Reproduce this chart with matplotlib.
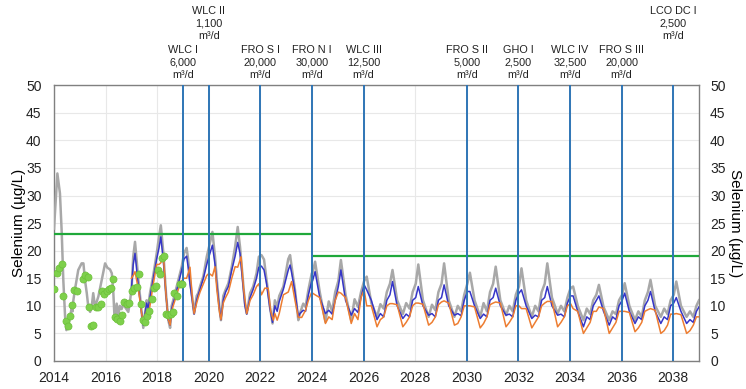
import numpy as np
import matplotlib
matplotlib.use("Agg")
import matplotlib.pyplot as plt

plt.rcParams['font.family'] = ['Liberation Sans', 'DejaVu Sans']

# measured data (green dots)
obs_t = [2014.01, 2014.13, 2014.2, 2014.3, 2014.36, 2014.45, 2014.53, 2014.62, 2014.71, 2014.79,
         2014.88, 2015.11, 2015.2, 2015.31, 2015.37, 2015.43, 2015.52, 2015.63, 2015.72, 2015.81,
         2015.86, 2015.95, 2016.04, 2016.13, 2016.21, 2016.3, 2016.36, 2016.45, 2016.55, 2016.62,
         2016.71, 2016.82, 2016.92, 2017.01, 2017.11, 2017.2, 2017.29, 2017.36, 2017.44, 2017.53,
         2017.62, 2017.69, 2017.79, 2017.86, 2017.95, 2018.02, 2018.11, 2018.19, 2018.28, 2018.34,
         2018.43, 2018.52, 2018.6, 2018.66, 2018.78, 2018.88, 2018.95]
obs_v = [13.0, 16.0, 16.8, 17.5, 11.8, 7.3, 6.3, 8.2, 10.1, 12.9,
         12.7, 14.8, 15.6, 15.2, 9.8, 6.4, 6.6, 9.7, 9.8, 10.3,
         12.6, 12.1, 12.7, 13.0, 13.3, 14.8, 7.9, 7.6, 7.2, 8.3,
         10.7, 10.4, 10.6, 12.7, 13.3, 13.5, 15.8, 10.3, 7.4, 7.1,
         8.2, 9.1, 11.2, 13.2, 13.6, 16.5, 15.7, 18.6, 19.0, 8.5,
         8.3, 8.6, 8.8, 12.4, 11.8, 13.9, 14.0]

# gray series, history part (2014 - 2023)
gray_hist_t = [2014.0, 2014.13, 2014.23, 2014.3, 2014.36, 2014.43, 2014.48, 2014.55, 2014.62, 2014.69,
               2014.72, 2014.75, 2014.81, 2014.94, 2015.07, 2015.14, 2015.2, 2015.27, 2015.33, 2015.4,
               2015.46, 2015.52, 2015.59, 2015.72, 2015.85, 2015.98, 2016.07, 2016.17, 2016.24, 2016.3,
               2016.35, 2016.43, 2016.49, 2016.55, 2016.62, 2016.69, 2016.75, 2016.88, 2016.95, 2017.01,
               2017.07, 2017.14, 2017.27, 2017.4, 2017.46, 2017.59, 2017.65, 2017.72, 2017.85, 2017.98,
               2018.07, 2018.14, 2018.24, 2018.34, 2018.43, 2018.5, 2018.56, 2018.62, 2018.69, 2018.82,
               2018.95, 2019.04, 2019.14, 2019.2, 2019.27, 2019.37, 2019.43, 2019.53, 2019.59, 2019.66,
               2019.79, 2019.92, 2020.01, 2020.14, 2020.24, 2020.31, 2020.41, 2020.47, 2020.56, 2020.65,
               2020.76, 2020.89, 2021.02, 2021.12, 2021.21, 2021.3, 2021.4, 2021.47, 2021.6, 2021.72,
               2021.85, 2021.94, 2022.04, 2022.14, 2022.24, 2022.37, 2022.47, 2022.56, 2022.65, 2022.73,
               2022.89, 2023.08, 2023.15, 2023.21, 2023.34, 2023.47, 2023.53, 2023.66, 2023.75, 2023.86,
               2023.99]
gray_hist_v = [24.0, 34.0, 30.4, 23.2, 14.7, 8.0, 5.6, 6.5, 7.9, 9.8,
               9.0, 11.0, 12.9, 16.5, 17.7, 17.7, 14.7, 12.3, 9.8, 8.9,
               9.8, 12.3, 9.8, 11.7, 14.7, 17.7, 16.9, 16.6, 15.9, 12.3,
               7.4, 10.4, 8.0, 10.0, 9.4, 10.4, 9.8, 8.9, 11.0, 13.4,
               18.9, 21.6, 14.7, 8.7, 6.0, 11.0, 9.9, 12.3, 15.6, 19.5,
               22.5, 24.6, 19.5, 12.3, 7.4, 6.0, 10.0, 11.0, 12.3, 14.7,
               17.1, 19.5, 20.5, 18.4, 14.7, 11.0, 8.6, 11.8, 12.3, 13.5,
               15.4, 18.9, 20.7, 23.4, 18.9, 14.7, 9.8, 7.4, 11.8, 12.9,
               14.1, 17.1, 20.7, 24.3, 20.7, 15.9, 10.4, 8.6, 12.3, 13.5,
               15.9, 18.9, 19.2, 18.4, 14.7, 9.8, 6.8, 11.0, 9.8, 11.8,
               13.5, 18.5, 19.2, 17.1, 12.9, 7.4, 8.6, 10.4, 9.8, 12.9,
               15.9]

blue_hist_t = [2017.0, 2017.07, 2017.14, 2017.27, 2017.4, 2017.46, 2017.59, 2017.65, 2017.72, 2017.85,
               2017.98, 2018.07, 2018.14, 2018.24, 2018.34, 2018.43, 2018.5, 2018.56, 2018.62, 2018.69,
               2018.82, 2018.95, 2019.04, 2019.14, 2019.2, 2019.27, 2019.37, 2019.43, 2019.53, 2019.59,
               2019.66, 2019.79, 2019.92, 2020.01, 2020.14, 2020.24, 2020.31, 2020.41, 2020.47, 2020.56,
               2020.65, 2020.76, 2020.89, 2021.02, 2021.12, 2021.21, 2021.3, 2021.4, 2021.47, 2021.6,
               2021.72, 2021.85, 2021.94, 2022.04, 2022.14, 2022.24, 2022.37, 2022.47, 2022.56, 2022.65,
               2022.73, 2022.89, 2023.08, 2023.15, 2023.21, 2023.34, 2023.47, 2023.53, 2023.66, 2023.75,
               2023.86, 2023.99]
blue_hist_v = [13.0, 17.5, 19.5, 13.5, 8.5, 6.5, 10.5, 9.5, 11.5, 15.0,
               18.5, 20.5, 22.5, 18.0, 12.0, 7.5, 6.5, 9.5, 10.5, 11.5,
               14.0, 16.5, 18.5, 19.0, 17.0, 14.0, 10.5, 8.5, 11.0, 12.0,
               13.0, 15.0, 17.5, 19.0, 21.0, 17.5, 14.0, 9.5, 7.5, 11.0,
               12.5, 13.5, 16.5, 19.0, 21.5, 19.5, 15.0, 10.0, 8.5, 11.5,
               13.0, 15.0, 17.0, 17.2, 16.5, 14.0, 9.5, 7.0, 10.0, 9.0,
               10.8, 13.0, 16.5, 17.4, 16.0, 12.5, 8.0, 8.6, 9.2, 9.0,
               12.0, 14.5]

orange_hist_t = [2017.0, 2017.07, 2017.14, 2017.27, 2017.4, 2017.46, 2017.59, 2017.65, 2017.72, 2017.85,
                 2017.98, 2018.07, 2018.14, 2018.24, 2018.34, 2018.43, 2018.5, 2018.56, 2018.62, 2018.69,
                 2018.82, 2018.95, 2019.04, 2019.14, 2019.27, 2019.37, 2019.43, 2019.53, 2019.59, 2019.66,
                 2019.79, 2019.92, 2020.01, 2020.14, 2020.24, 2020.31, 2020.41, 2020.47, 2020.56, 2020.65,
                 2020.76, 2020.89, 2021.02, 2021.12, 2021.25, 2021.35, 2021.47, 2021.6, 2021.72, 2021.85,
                 2021.94, 2022.04, 2022.17, 2022.3, 2022.4, 2022.5, 2022.56, 2022.65, 2022.73, 2022.89,
                 2023.08, 2023.21, 2023.34, 2023.47, 2023.6, 2023.75, 2023.86, 2023.99]
orange_hist_v = [15.0, 15.5, 16.2, 13.0, 8.5, 7.0, 9.0, 8.5, 10.0, 14.0,
                 17.5, 17.5, 17.8, 19.0, 12.0, 7.5, 6.5, 9.0, 10.0, 11.0,
                 13.0, 14.5, 15.0, 15.0, 17.0, 11.0, 8.6, 10.5, 11.5, 12.5,
                 14.0, 15.5, 15.9, 15.4, 17.1, 13.0, 9.0, 7.5, 10.5, 11.5,
                 12.5, 15.0, 17.1, 17.0, 18.9, 13.0, 8.6, 11.0, 12.0, 13.5,
                 14.0, 12.0, 13.2, 13.2, 9.0, 7.4, 8.6, 7.4, 8.6, 12.0,
                 12.5, 14.4, 11.0, 7.9, 7.9, 9.2, 11.0, 12.5]

# projections 2024 - 2038, seven readings per year
proj_years = list(range(2024, 2039))
proj_phase = [0.02, 0.12, 0.3, 0.52, 0.65, 0.78, 0.9]
gray_proj = [
    [15.9, 18.0, 12.5, 7.1, 10.8, 9.0, 12.5],
    [14.5, 18.3, 12.0, 7.4, 11.2, 9.8, 12.5],
    [14.5, 15.3, 10.5, 8.0, 10.3, 9.5, 12.5],
    [14.0, 16.5, 11.0, 8.5, 10.5, 9.5, 12.5],
    [14.0, 17.5, 11.0, 8.0, 10.2, 9.2, 12.5],
    [14.0, 17.7, 11.0, 8.0, 10.0, 9.0, 12.0],
    [14.0, 16.0, 11.0, 8.0, 10.5, 9.0, 12.5],
    [14.0, 17.1, 11.0, 8.3, 10.0, 9.0, 12.0],
    [13.5, 16.8, 11.0, 8.0, 10.0, 9.0, 12.5],
    [14.0, 17.7, 11.5, 8.6, 10.0, 9.0, 11.5],
    [13.2, 13.5, 10.0, 7.4, 9.5, 8.5, 11.0],
    [12.0, 13.8, 9.8, 7.4, 9.0, 8.5, 11.0],
    [12.0, 14.1, 10.0, 7.4, 9.0, 8.0, 11.0],
    [12.5, 14.7, 10.0, 8.0, 9.5, 8.5, 11.0],
    [12.0, 14.4, 10.0, 8.0, 9.0, 8.0, 10.0],
]
blue_proj = [
    [14.5, 16.2, 11.5, 8.6, 9.2, 8.5, 11.0],
    [13.5, 16.5, 11.0, 8.3, 9.5, 8.8, 11.5],
    [13.8, 12.9, 11.0, 7.5, 8.6, 8.0, 11.0],
    [12.0, 14.4, 10.0, 7.7, 8.5, 8.0, 11.0],
    [11.5, 13.5, 10.0, 8.3, 8.6, 8.0, 11.0],
    [11.5, 13.8, 10.0, 8.3, 8.6, 8.2, 11.0],
    [12.6, 12.6, 10.0, 7.7, 8.5, 8.0, 11.0],
    [11.5, 13.2, 10.0, 8.3, 8.5, 8.0, 11.0],
    [12.3, 12.9, 10.0, 7.7, 8.3, 8.0, 11.0],
    [11.5, 13.5, 10.0, 8.3, 8.5, 8.0, 10.5],
    [11.8, 11.8, 9.0, 6.2, 8.0, 7.5, 10.0],
    [11.0, 11.8, 9.0, 6.5, 8.0, 7.5, 10.0],
    [11.0, 12.3, 9.0, 6.8, 8.0, 7.5, 10.0],
    [11.0, 12.6, 9.0, 6.8, 8.0, 7.5, 10.0],
    [10.5, 11.5, 9.0, 6.8, 7.5, 7.0, 9.0],
]
orange_proj = [
    [12.3, 12.0, 11.5, 6.8, 8.0, 7.5, 11.0],
    [12.5, 12.3, 11.5, 6.8, 8.6, 7.5, 11.5],
    [12.9, 10.0, 10.0, 6.2, 7.5, 8.0, 10.0],
    [10.4, 10.4, 10.2, 6.2, 7.0, 8.0, 10.0],
    [10.5, 10.5, 10.3, 6.5, 7.0, 8.0, 10.2],
    [10.7, 10.9, 10.5, 6.5, 6.8, 8.0, 10.0],
    [10.0, 10.0, 9.8, 6.0, 6.8, 8.0, 10.2],
    [10.5, 10.7, 10.5, 6.2, 7.0, 8.0, 10.0],
    [10.0, 9.5, 9.5, 6.0, 7.0, 8.0, 10.0],
    [10.5, 10.8, 10.8, 6.2, 7.0, 8.0, 10.0],
    [10.4, 9.5, 9.0, 5.0, 6.0, 7.0, 9.0],
    [9.0, 9.8, 9.5, 5.0, 6.0, 7.0, 9.0],
    [9.0, 9.0, 8.8, 5.3, 6.0, 7.0, 9.0],
    [9.3, 9.5, 9.2, 5.0, 5.5, 6.5, 8.5],
    [8.5, 8.6, 8.4, 5.0, 5.5, 6.5, 8.0],
]
end_t = 2039.0
gray_end, blue_end, orange_end = 11.0, 9.8, 8.0

# guideline values
limit_start = [2014, 2024]
limit_end = [2024, 2039]
limit_val = [23, 19]

# facilities coming online
fac_year = [2019, 2020, 2022, 2024, 2026, 2030, 2032, 2034, 2036, 2038]
fac_name = ["WLC I", "WLC II", "FRO S I", "FRO N I", "WLC III",
            "FRO S II", "GHO I", "WLC IV", "FRO S III", "LCO DC I"]
fac_cap = ["6,000", "1,100", "20,000", "30,000", "12,500",
           "5,000", "2,500", "32,500", "20,000", "2,500"]
fac_raised = [False, True, False, False, False, False, False, False, False, True]


def build(hist_t, hist_v, proj, end_v):
    t = list(hist_t)
    v = list(hist_v)
    for yr, vals in zip(proj_years, proj):
        for ph, val in zip(proj_phase, vals):
            t.append(yr + ph)
            v.append(val)
    t.append(end_t)
    v.append(end_v)
    return t, v


gray_t, gray_v = build(gray_hist_t, gray_hist_v, gray_proj, gray_end)
blue_t, blue_v = build(blue_hist_t, blue_hist_v, blue_proj, blue_end)
orange_t, orange_v = build(orange_hist_t, orange_hist_v, orange_proj, orange_end)

fig = plt.figure(figsize=(7.46, 3.89), dpi=100)
ax = fig.add_axes([0.0724, 0.072, 0.8646, 0.709])

ax.plot(gray_t, gray_v, color='#a8a8a8', lw=1.8, zorder=3)
ax.plot(blue_t, blue_v, color='#3535c8', lw=1.1, zorder=4)
ax.plot(orange_t, orange_v, color='#ed7d31', lw=1.1, zorder=4)

ax.hlines(limit_val, limit_start, limit_end, color='#1fa83a', lw=1.6, zorder=5)

for yr in fac_year:
    ax.axvline(yr, color='#2e75b6', lw=1.4, zorder=6)

ax.scatter(obs_t, obs_v, s=26, color='#7ed04b', edgecolor='#6cc03a', lw=0.5, zorder=7)

# facility labels above the plot
for yr, name, cap, raised in zip(fac_year, fac_name, fac_cap, fac_raised):
    off = 44 if raised else 5
    ax.annotate(f"{name}\n{cap}\nm³/d", xy=(yr, 1), xycoords=('data', 'axes fraction'),
                xytext=(0, off), textcoords='offset pixels', ha='center', va='bottom',
                fontsize=7.8, linespacing=1.3, color='#222222', annotation_clip=False)

ax.set_xlim(2014, 2039)
ax.set_ylim(0, 50)
ax.set_xticks(range(2014, 2039, 2))
ax.set_yticks(range(0, 51, 5))
ax.grid(True, color='#e8e8e8', lw=0.8, zorder=0)
ax.set_axisbelow(True)
ax.tick_params(length=0, labelsize=10, colors='#222222')
ax.tick_params(axis='y', pad=9)
ax.tick_params(axis='x', pad=7)
for sp in ax.spines.values():
    sp.set_color('#808080')
    sp.set_linewidth(1.0)
ax.set_ylabel('Selenium (µg/L)', fontsize=11, labelpad=0)

ax2 = ax.twinx()
ax2.set_ylim(0, 50)
ax2.set_yticks(range(0, 51, 5))
ax2.tick_params(length=0, labelsize=10, colors='#222222', pad=8)
for sp in ax2.spines.values():
    sp.set_visible(False)
ax2.set_ylabel('Selenium (µg/L)', fontsize=11, rotation=270, labelpad=12)

fig.savefig('out.png', dpi=100)
